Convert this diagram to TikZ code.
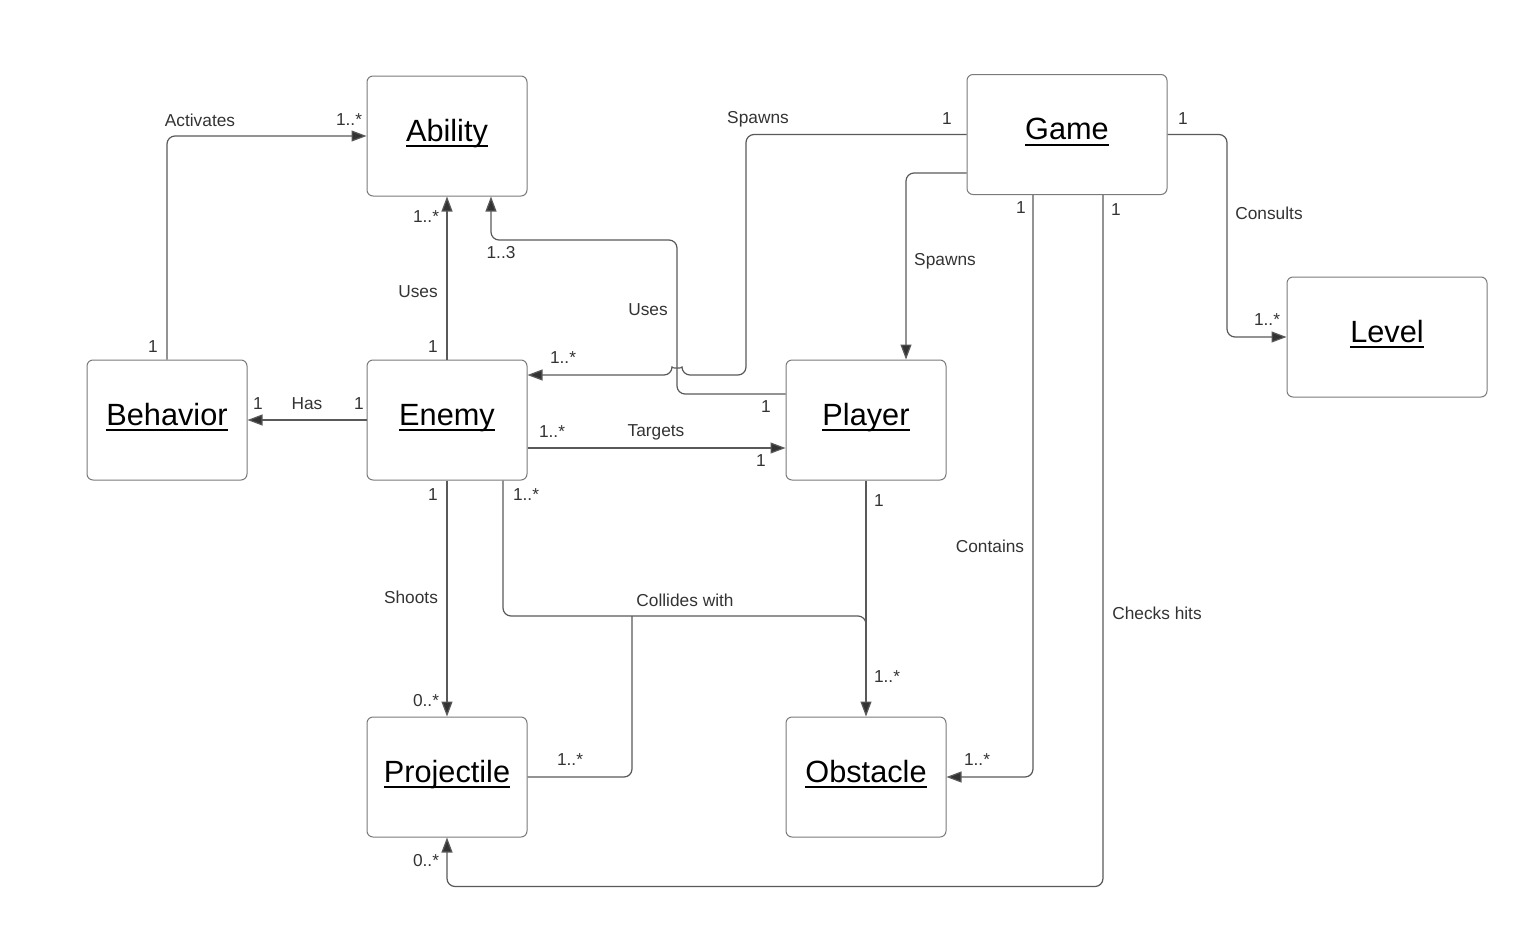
\documentclass[tikz,border=0pt]{standalone}
\usepackage{fontspec}
\setmainfont{Liberation Sans}
\newcommand{\ttl}[1]{\setbox0\hbox{#1}\rlap{\copy0}\rule[-6pt]{\wd0}{2pt}}
\usetikzlibrary{arrows.meta}
\definecolor{boxline}{HTML}{7A7A7A}
\definecolor{lineclr}{HTML}{595959}
\definecolor{txt}{HTML}{333333}
\tikzset{
  box/.style={draw=boxline, line width=1pt, rounded corners=6pt, minimum width=160pt, minimum height=120pt, inner sep=0pt, text height=16pt, text depth=6pt, font=\fontsize{30.7}{34}\selectfont, text=black},
  conn/.style={draw=lineclr, line width=1.2pt, rounded corners=8pt},
  tip/.style={-{Triangle[length=15pt,width=11pt,fill=txt]}},
  lbl/.style={font=\fontsize{17.3}{20}\selectfont, text=txt, inner sep=0pt, anchor=center}
}
\begin{document}
\begin{tikzpicture}[x=1pt,y=-1pt]
\useasboundingbox (0,0) rectangle (1527,927);
% boxes
\node[box] (ability) at (447,136) {\ttl{Ability}};
\node[box, minimum width=200pt] (game) at (1067,134.5) {\ttl{Game}};
\node[box, minimum width=200pt] (level) at (1387,337) {\ttl{Level}};
\node[box] (behavior) at (167,420) {\ttl{Behavior}};
\node[box] (enemy) at (447,420) {\ttl{Enemy}};
\node[box] (player) at (866,420) {\ttl{Player}};
\node[box] (projectile) at (447,777) {\ttl{Projectile}};
\node[box] (obstacle) at (866,777) {\ttl{Obstacle}};
% connectors
\draw[conn,tip] (behavior.north) |- (ability.west);
\draw[conn,tip] (enemy.north) -- (ability.south);
\draw[conn,tip] (enemy.west) -- (behavior.east);
\draw[conn,tip] ([yshift=-28pt]enemy.east) -- ([yshift=-28pt]player.west);
\draw[conn,tip] (enemy.south) -- (projectile.north);
\draw[conn,tip] ([yshift=26pt]player.west) -| (677,240) -| ([xshift=44pt]ability.south);
\draw[conn,tip] (game.west) -| (746,375) -- (682,375) .. controls (682,368.5) and (672,368.5) .. (672,375) -- ([yshift=45pt]enemy.east);
\draw[conn,tip] ([yshift=-38.5pt]game.west) -| ([xshift=40pt]player.north);
\draw[conn,tip] (game.east) -| (1227,337) -- (level.west);
\draw[conn,tip] ([xshift=-34pt]game.south) |- (obstacle.east);
\draw[conn,tip] ([xshift=36pt]game.south) |- ([yshift=-49pt]projectile.south) -- (projectile.south);
\draw[conn,tip] (player.south) -- (obstacle.north);
\coordinate (cj) at (866,640);
\draw[conn] ([xshift=56pt]enemy.south) |- (866,616) -- (cj);
\draw[conn] (projectile.east) -| (632,616);
% labels
\node[lbl] (t1) at (200,120) {Activates};
\node[lbl] (t2) at (349,120) {1..*};
\node[lbl] (t3) at (153,347) {1};
\node[lbl] (t4) at (418,292) {Uses};
\node[lbl] (t5) at (433,347) {1};
\node[lbl] (t6) at (426,217) {1..*};
\node[lbl] (t7) at (307,404) {Has};
\node[lbl] (t8) at (258,404) {1};
\node[lbl] (t9) at (359,404) {1};
\node[lbl] (t10) at (552,432) {1..*};
\node[lbl] (t11) at (656,432) {Targets};
\node[lbl] (t12) at (761,461) {1};
\node[lbl] (t13) at (433,495) {1};
\node[lbl] (t14) at (411,597) {Shoots};
\node[lbl] (t15) at (426,701) {0..*};
\node[lbl] (t16) at (766,407) {1};
\node[lbl] (t17) at (648,310) {Uses};
\node[lbl] (t18) at (501,253) {1..3};
\node[lbl] (t19) at (758,119) {Spawns};
\node[lbl] (t20) at (947,119) {1};
\node[lbl] (t21) at (563,358) {1..*};
\node[lbl] (t22) at (945,261) {Spawns};
\node[lbl] (t23) at (1183,119) {1};
\node[lbl] (t24) at (1269,213) {Consults};
\node[lbl] (t25) at (1267,320) {1..*};
\node[lbl] (t26) at (1021,208) {1};
\node[lbl] (t27) at (990,546) {Contains};
\node[lbl] (t28) at (977,760) {1..*};
\node[lbl] (t29) at (1116,210) {1};
\node[lbl] (t30) at (1157,613) {Checks hits};
\node[lbl] (t31) at (426,861) {0..*};
\node[lbl] (t32) at (879,501) {1};
\node[lbl] (t33) at (887,677) {1..*};
\node[lbl] (t34) at (526,495) {1..*};
\node[lbl] (t35) at (570,760) {1..*};
\node[lbl] (t36) at (685,600) {Collides with};
\end{tikzpicture}
\end{document}
